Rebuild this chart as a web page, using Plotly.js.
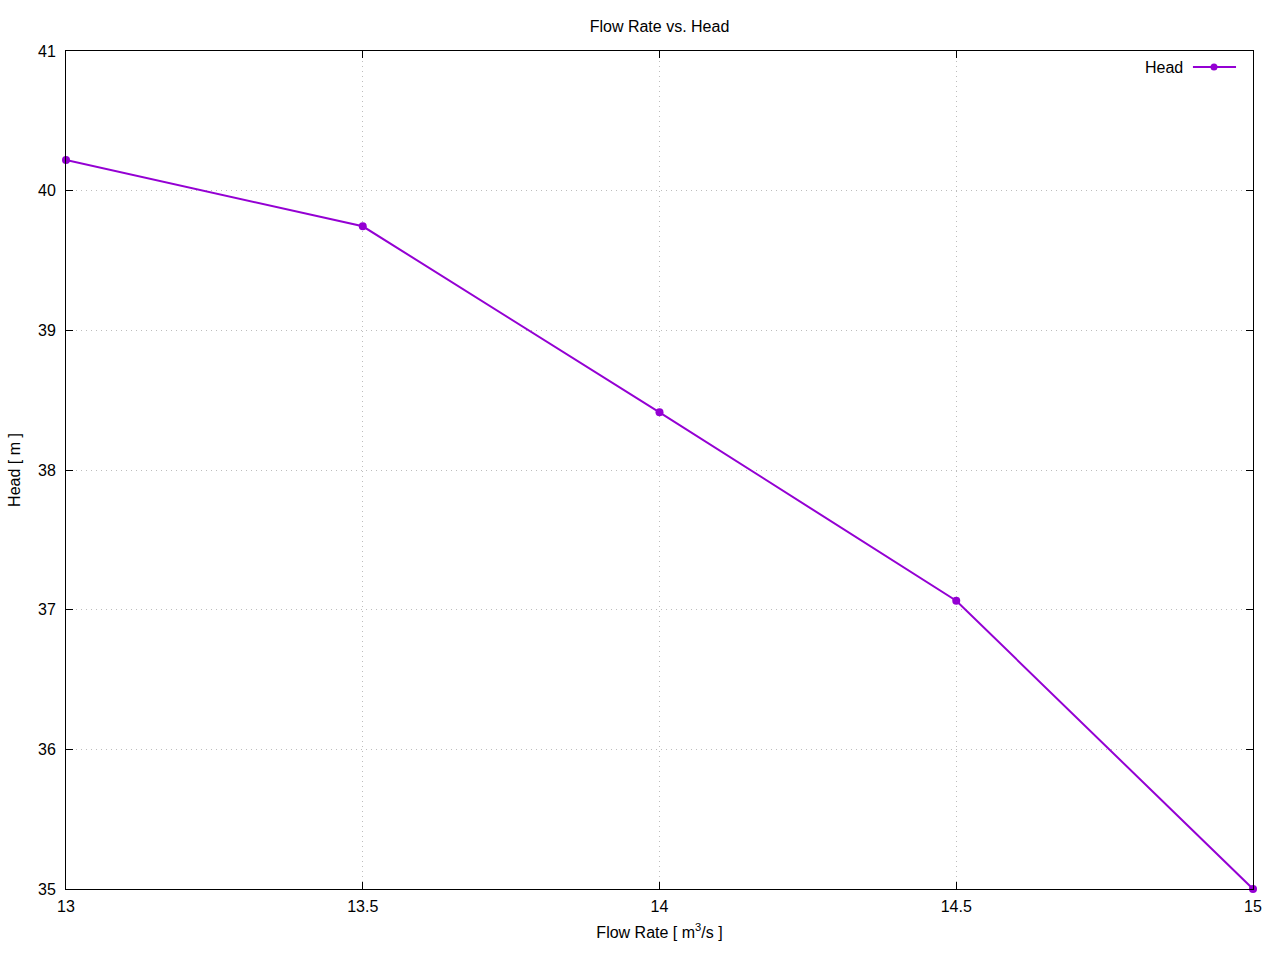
<!DOCTYPE html>
<html>
<head>
<meta charset="utf-8">
<script src="https://cdn.plot.ly/plotly-3.0.1.min.js"></script>
<style>body{margin:0;background:#fff;} #chart{width:1280px;height:960px;}</style>
</head>
<body>
<div id="chart"></div>
<script>
var flowRate = [13, 13.5, 14, 14.5, 15];
var head = [40.22, 39.745, 38.413, 37.064, 35.0];
var xTicks = [13, 13.5, 14, 14.5, 15];
var yTicks = [35, 36, 37, 38, 39, 40, 41];
var seriesName = 'Head';
var lineColor = '#9400D3';

var trace = {
  x: flowRate, y: head, name: seriesName,
  type: 'scatter', mode: 'lines+markers',
  line: {color: lineColor, width: 2},
  marker: {color: lineColor, size: 8},
  showlegend: false, cliponaxis: false
};

var fontFam = 'Liberation Sans, Arial, sans-serif';

var axisCommon = {
  showline: true, linecolor: '#000', linewidth: 1, mirror: 'ticks',
  ticks: 'inside', ticklen: 7, tickcolor: '#000', tickwidth: 1,
  showgrid: true, gridcolor: '#bdbdbd', griddash: '1px,4px', gridwidth: 1,
  zeroline: false, tickfont: {family: fontFam, size: 16, color: '#000'}
};

var layout = {
  width: 1280, height: 960,
  margin: {l: 66, r: 27, t: 51, b: 71},
  paper_bgcolor: '#fff', plot_bgcolor: '#fff',
  font: {family: fontFam, color: '#000'},
  title: {text: 'Flow Rate vs. Head', font: {size: 16, color: '#000'}, xref: 'paper', x: 0.5, xanchor: 'center', yref: 'container', y: 0.973, yanchor: 'middle'},
  xaxis: Object.assign({}, axisCommon, {
    range: [13, 15], tickvals: xTicks, ticktext: xTicks.map(String), ticklabelstandoff: 3,
    title: {text: 'Flow Rate [ m<sup>3</sup>/s ]', font: {size: 16}, standoff: 12}
  }),
  yaxis: Object.assign({}, axisCommon, {
    range: [35, 41], tickvals: yTicks, ticktext: yTicks.map(String), ticklabelstandoff: 6,
    title: {text: 'Head [ m ]', font: {size: 16}, standoff: 13}
  }),
  annotations: [{
    xref: 'paper', yref: 'paper', x: 0.9425, y: 0.9809, xanchor: 'right', yanchor: 'middle',
    text: seriesName, showarrow: false, font: {size: 16, color: '#000'}
  }],
  shapes: [
    {type: 'line', xref: 'paper', yref: 'paper', x0: 0.9494, x1: 0.9857, y0: 0.9809, y1: 0.9809, line: {color: lineColor, width: 2}},
    {type: 'circle', xref: 'paper', yref: 'paper', x0: 0.9642, x1: 0.9701, y0: 0.9767, y1: 0.9851, fillcolor: lineColor, line: {color: lineColor, width: 0}}
  ]
};

Plotly.newPlot('chart', [trace], layout, {displayModeBar: false, staticPlot: true});
</script>
</body>
</html>
